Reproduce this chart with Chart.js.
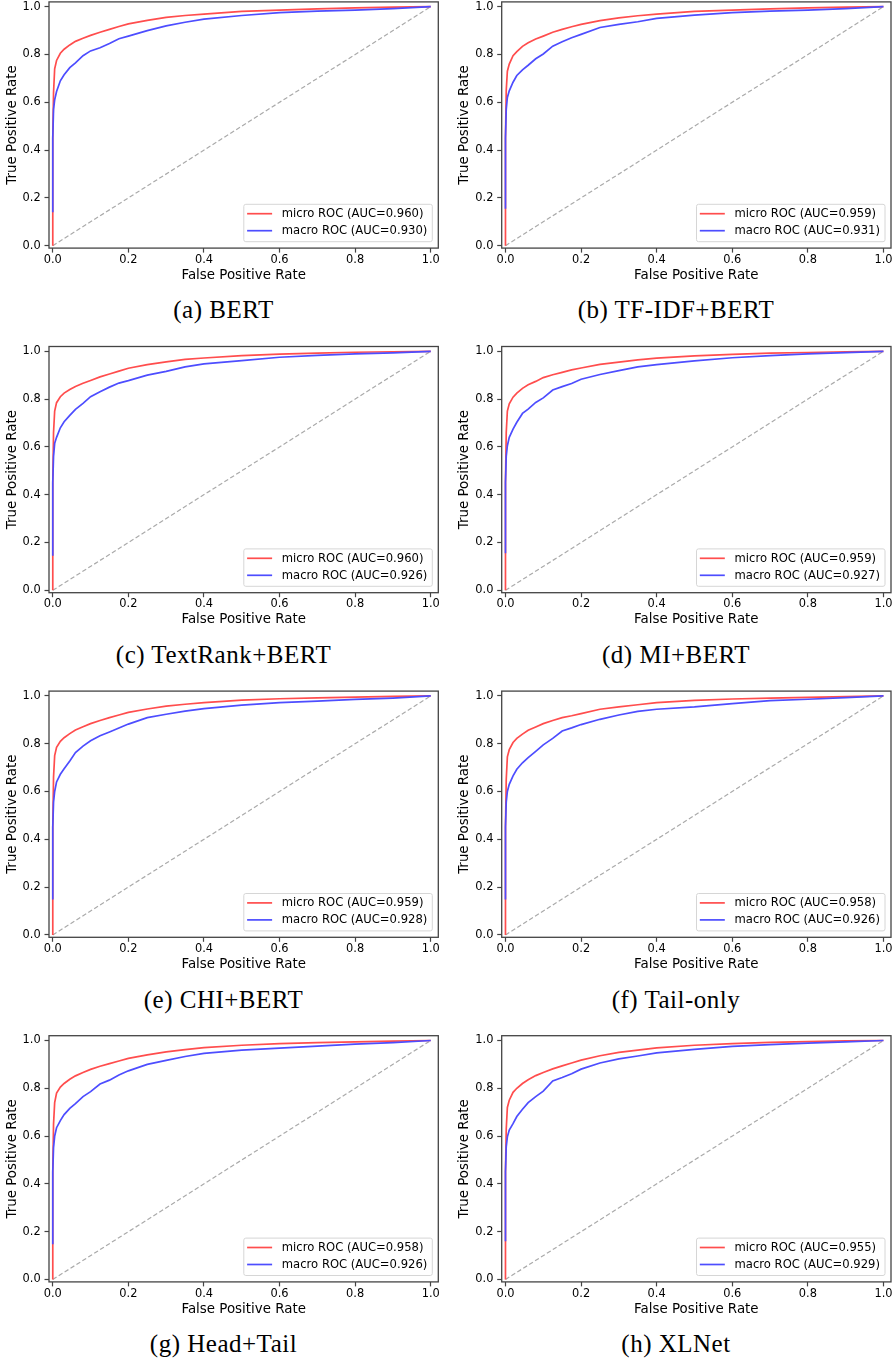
<!DOCTYPE html>
<html>
<head>
<meta charset="utf-8">
<script src="https://cdn.jsdelivr.net/npm/chart.js@4.4.0/dist/chart.umd.min.js"></script>
<style>
  body { margin: 0; background: #fff; width: 895px; height: 1360px; position: relative; overflow: hidden; }
  canvas { position: absolute; }
  .cap { position: absolute; width: 447px; text-align: center; font-family: "Liberation Serif", serif;
         font-size: 25px; line-height: 25px; letter-spacing: 0.5px; color: #000; white-space: nowrap; }
</style>
</head>
<body>
<script>
// shared false positive rate grid (0 appears twice: curves start with a vertical run)
const fprGrid = [0, 0, 0.002, 0.005, 0.01, 0.02, 0.03, 0.045, 0.06, 0.08, 0.1, 0.125, 0.15, 0.175,
                 0.2, 0.25, 0.3, 0.35, 0.4, 0.5, 0.6, 0.7, 0.8, 0.9, 1.0];
const tickVals = [0, 0.2, 0.4, 0.6, 0.8, 1.0];
const diagonal = [0, 1];

const captions = ['(a) BERT', '(b) TF-IDF+BERT', '(c) TextRank+BERT', '(d) MI+BERT',
                  '(e) CHI+BERT', '(f) Tail-only', '(g) Head+Tail', '(h) XLNet'];
const microAuc = ['0.960', '0.959', '0.960', '0.959', '0.959', '0.958', '0.958', '0.955'];
const macroAuc = ['0.930', '0.931', '0.926', '0.927', '0.928', '0.926', '0.926', '0.929'];

// true positive rates, one value per fprGrid entry
const microBert     = [0, 0.45, 0.64, 0.74, 0.775, 0.805, 0.822, 0.84, 0.855, 0.868, 0.88, 0.893, 0.905, 0.917, 0.928, 0.943, 0.955, 0.963, 0.969, 0.98, 0.986, 0.991, 0.995, 0.998, 1];
const macroBert     = [0.14, 0.45, 0.57, 0.61, 0.645, 0.69, 0.715, 0.745, 0.765, 0.795, 0.815, 0.828, 0.846, 0.866, 0.877, 0.9, 0.92, 0.935, 0.948, 0.963, 0.975, 0.981, 0.986, 0.992, 1];
const microTfidf    = [0, 0.45, 0.65, 0.73, 0.76, 0.795, 0.812, 0.834, 0.849, 0.865, 0.877, 0.893, 0.905, 0.916, 0.926, 0.942, 0.953, 0.962, 0.969, 0.98, 0.986, 0.991, 0.995, 0.998, 1];
const macroTfidf    = [0.155, 0.45, 0.57, 0.62, 0.648, 0.684, 0.712, 0.736, 0.755, 0.782, 0.802, 0.835, 0.853, 0.87, 0.884, 0.913, 0.926, 0.937, 0.951, 0.965, 0.975, 0.981, 0.986, 0.992, 1];
const microTextrank = [0, 0.45, 0.66, 0.75, 0.785, 0.81, 0.825, 0.84, 0.853, 0.866, 0.878, 0.893, 0.905, 0.917, 0.929, 0.944, 0.956, 0.966, 0.972, 0.982, 0.988, 0.992, 0.996, 0.998, 1];
const macroTextrank = [0.145, 0.45, 0.56, 0.615, 0.64, 0.68, 0.705, 0.732, 0.757, 0.782, 0.81, 0.831, 0.85, 0.867, 0.877, 0.9, 0.916, 0.935, 0.947, 0.961, 0.975, 0.983, 0.989, 0.993, 1];
const microMi       = [0, 0.45, 0.66, 0.75, 0.78, 0.808, 0.825, 0.845, 0.86, 0.874, 0.89, 0.902, 0.912, 0.922, 0.93, 0.945, 0.955, 0.964, 0.971, 0.981, 0.987, 0.992, 0.995, 0.998, 1];
const macroMi       = [0.155, 0.45, 0.56, 0.605, 0.64, 0.674, 0.703, 0.74, 0.758, 0.786, 0.805, 0.838, 0.852, 0.865, 0.883, 0.903, 0.919, 0.935, 0.944, 0.96, 0.973, 0.982, 0.989, 0.994, 1];
const microChi      = [0, 0.45, 0.66, 0.75, 0.785, 0.81, 0.825, 0.842, 0.857, 0.871, 0.884, 0.897, 0.909, 0.92, 0.931, 0.945, 0.957, 0.965, 0.972, 0.982, 0.988, 0.992, 0.995, 0.998, 1];
const macroChi      = [0.148, 0.45, 0.555, 0.6, 0.64, 0.672, 0.695, 0.728, 0.763, 0.79, 0.812, 0.833, 0.849, 0.866, 0.882, 0.909, 0.923, 0.936, 0.947, 0.961, 0.972, 0.978, 0.985, 0.991, 1];
const microTail     = [0, 0.45, 0.65, 0.745, 0.775, 0.805, 0.822, 0.84, 0.856, 0.87, 0.884, 0.897, 0.909, 0.917, 0.926, 0.944, 0.954, 0.963, 0.972, 0.981, 0.987, 0.991, 0.994, 0.997, 1];
const macroTail     = [0.148, 0.45, 0.555, 0.6, 0.63, 0.665, 0.693, 0.72, 0.742, 0.768, 0.795, 0.822, 0.853, 0.866, 0.88, 0.902, 0.92, 0.935, 0.944, 0.954, 0.968, 0.98, 0.986, 0.993, 1];
const microHeadTail = [0, 0.45, 0.65, 0.74, 0.78, 0.805, 0.82, 0.838, 0.852, 0.866, 0.879, 0.892, 0.903, 0.914, 0.925, 0.94, 0.952, 0.962, 0.97, 0.98, 0.987, 0.991, 0.994, 0.997, 1];
const macroHeadTail = [0.147, 0.45, 0.552, 0.6, 0.635, 0.665, 0.69, 0.716, 0.736, 0.765, 0.786, 0.818, 0.834, 0.856, 0.873, 0.9, 0.917, 0.933, 0.946, 0.96, 0.968, 0.976, 0.985, 0.991, 1];
const microXlnet    = [0, 0.45, 0.63, 0.72, 0.75, 0.783, 0.8, 0.82, 0.836, 0.853, 0.866, 0.881, 0.894, 0.906, 0.918, 0.936, 0.95, 0.96, 0.969, 0.98, 0.987, 0.992, 0.995, 0.998, 1];
const macroXlnet    = [0.16, 0.45, 0.555, 0.597, 0.625, 0.652, 0.682, 0.712, 0.74, 0.765, 0.788, 0.831, 0.845, 0.861, 0.88, 0.906, 0.923, 0.935, 0.948, 0.963, 0.975, 0.983, 0.989, 0.994, 1];

const panels = [
  [microBert, macroBert], [microTfidf, macroTfidf],
  [microTextrank, macroTextrank], [microMi, macroMi],
  [microChi, macroChi], [microTail, macroTail],
  [microHeadTail, macroHeadTail], [microXlnet, macroXlnet]
];

const SANS = 'DejaVu Sans';

// axes frame + matplotlib-like legend box in the lower right corner
const framePlugin = {
  id: 'frameLegend',
  afterDatasetsDraw(chart) {
    const { ctx, chartArea: a } = chart;
    ctx.save();
    ctx.strokeStyle = '#444';
    ctx.lineWidth = 1.3;
    ctx.strokeRect(a.left, a.top, a.right - a.left, a.bottom - a.top);

    const items = chart.data.datasets.filter(d => d.label);
    ctx.font = `11.6px "${SANS}"`;
    const tw = Math.max(...items.map(d => ctx.measureText(d.label).width));
    const bw = 38 + tw + 5, bh = 37.4;
    const bx = a.right - 6 - bw, by = a.bottom - 6.4 - bh;
    ctx.beginPath();
    ctx.roundRect(bx, by, bw, bh, 2);
    ctx.fillStyle = 'rgba(255,255,255,0.8)';
    ctx.fill();
    ctx.strokeStyle = '#d6d6d6';
    ctx.lineWidth = 1;
    ctx.stroke();
    items.forEach((d, k) => {
      const y = by + 9.4 + k * 17;
      ctx.beginPath();
      ctx.moveTo(bx + 3.3, y);
      ctx.lineTo(bx + 28.3, y);
      ctx.strokeStyle = d.borderColor;
      ctx.lineWidth = 1.7;
      ctx.stroke();
      ctx.fillStyle = '#000';
      ctx.textBaseline = 'middle';
      ctx.textAlign = 'left';
      ctx.fillText(d.label, bx + 38, y + 0.5);
    });
    ctx.restore();
  }
};

for (let i = 0; i < 8; i++) {
  const col = i % 2, row = Math.floor(i / 2);
  const rowOff = 344.6 * row;
  const top = Math.round(rowOff);
  const delta = rowOff - top;
  const left = col ? 452 : 0;
  const W = col ? 443 : 447, H = 292;
  const chartLeft = col ? 49.7 : 49;
  const chartRight = chartLeft + 389.3;
  const padTop = 1.9 + delta;
  const chartBottom = padTop + 246.2;
  const xAxisH = H - chartBottom;

  const cv = document.createElement('canvas');
  cv.width = W; cv.height = H;
  cv.style.left = left + 'px';
  cv.style.top = top + 'px';
  cv.style.width = W + 'px';
  cv.style.height = H + 'px';
  document.body.appendChild(cv);

  const [micro, macro] = panels[i];
  const pts = arr => fprGrid.map((f, k) => ({ x: f, y: arr[k] }));

  const tickStyle = {
    font: { family: SANS, size: 11.4 }, color: '#000',
    callback: v => Number(v).toFixed(1), autoSkip: false, maxRotation: 0
  };
  const gridStyle = { display: true, drawOnChartArea: false, drawTicks: true,
                      tickLength: 4.5, tickWidth: 1.2, tickColor: '#444' };

  new Chart(cv, {
    type: 'line',
    data: {
      datasets: [
        { label: `micro ROC (AUC=${microAuc[i]})`, data: pts(micro), borderColor: '#ff4d4d',
          borderWidth: 1.7, pointRadius: 0, tension: 0, order: 1 },
        { label: `macro ROC (AUC=${macroAuc[i]})`, data: pts(macro), borderColor: '#4d4dff',
          borderWidth: 1.7, pointRadius: 0, tension: 0, order: 0 },
        { data: diagonal.map(v => ({ x: v, y: v })), borderColor: '#aaaaaa', borderDash: [4.5, 2.5],
          borderWidth: 1.2, pointRadius: 0, order: 2 }
      ]
    },
    options: {
      responsive: false,
      animation: false,
      devicePixelRatio: 1,
      layout: { padding: { left: 0, right: W - chartRight, top: padTop, bottom: 0 } },
      plugins: { legend: { display: false }, tooltip: { enabled: false } },
      scales: {
        x: {
          type: 'linear', min: -0.01, max: 1.02,
          afterBuildTicks: s => { s.ticks = tickVals.map(v => ({ value: v })); },
          afterFit: s => { s.height = xAxisH; s.paddingLeft = 0; s.paddingRight = 0; },
          grid: gridStyle,
          border: { display: false },
          ticks: { ...tickStyle, padding: 0.5 },
          title: { display: true, text: 'False Positive Rate', color: '#000',
                   font: { family: SANS, size: 13.4 },
                   padding: { top: 0, bottom: H - (275.3 + delta) - 8.04 } }
        },
        y: {
          type: 'linear', min: -0.01, max: 1.02,
          afterBuildTicks: s => { s.ticks = tickVals.map(v => ({ value: v })); },
          afterFit: s => { s.width = chartLeft; s.paddingTop = 0; s.paddingBottom = 0; },
          grid: gridStyle,
          border: { display: false },
          ticks: { ...tickStyle, padding: 3.8 },
          title: { display: true, text: 'True Positive Rate', color: '#000',
                   font: { family: SANS, size: 13.4 },
                   padding: { top: 4.3, bottom: 0 } }
        }
      }
    },
    plugins: [framePlugin]
  });

  const cap = document.createElement('div');
  cap.className = 'cap';
  cap.textContent = captions[i];
  cap.style.left = (col ? 452.5 : 0) + 'px';
  cap.style.top = (318.3 + rowOff - 20.9) + 'px';
  document.body.appendChild(cap);
}
</script>
</body>
</html>
